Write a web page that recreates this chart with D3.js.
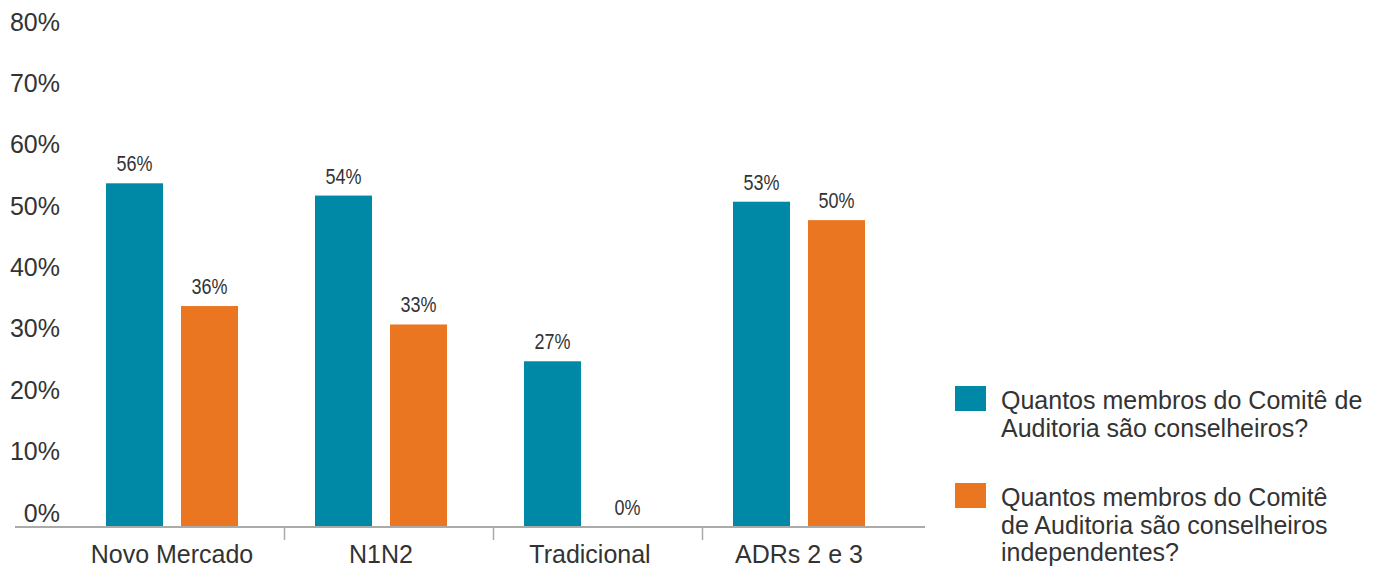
<!DOCTYPE html>
<html>
<head>
<meta charset="utf-8">
<script src="https://cdn.jsdelivr.net/npm/d3@7"></script>
<style>
  html, body { margin: 0; padding: 0; background: #fff; }
  svg { display: block; }
  text { fill: #333; }
</style>
</head>
<body>
<svg id="chart" width="1387" height="569"></svg>
<script>
// Categories (market segments)
const categories = ["Novo Mercado", "N1N2", "Tradicional", "ADRs 2 e 3"];
// Series names (legend text, split into lines)
const seriesKeys = ["conselheiros", "independentes"];
const seriesLabels = [
  ["Quantos membros do Comitê de", "Auditoria são conselheiros?"],
  ["Quantos membros do Comitê", "de Auditoria são conselheiros", "independentes?"]
];
const seriesColors = ["#0089a6", "#eb7622"];
// Values in percent
const conselheiros = [56, 54, 27, 53];
const independentes = [36, 33, 0, 50];
// Y axis ticks
const yTicks = [0, 10, 20, 30, 40, 50, 60, 70, 80];

const data = categories.map((c, i) => ({
  category: c,
  conselheiros: conselheiros[i],
  independentes: independentes[i]
}));

const svg = d3.select("#chart");

const y = d3.scaleLinear().domain([0, 80]).range([527, 36]);
const x = d3.scaleBand().domain(categories).range([67.5, 903.5]).padding(0);
const xs = d3.scaleBand().domain(seriesKeys).range([0, x.bandwidth()])
  .paddingInner(0.24).paddingOuter(0.513);

// Y axis labels (no line, no ticks)
const yAxis = d3.axisLeft(y).tickValues(yTicks).tickFormat(d => d + "%").tickSize(0).tickPadding(0);
const yg = svg.append("g").attr("transform", "translate(60,0)").call(yAxis);
yg.select(".domain").remove();
yg.selectAll("text")
  .attr("dy", "-6px")
  .attr("font-family", "'Liberation Sans', Arial, sans-serif")
  .attr("font-size", 25)
  .attr("fill", "#333");

// Bars
const groups = svg.append("g").selectAll("g").data(data).join("g")
  .attr("transform", d => `translate(${x(d.category)},0)`);

groups.selectAll("rect")
  .data(d => seriesKeys.map((k, i) => ({ key: k, value: d[k], color: seriesColors[i] })))
  .join("rect")
  .attr("x", d => xs(d.key))
  .attr("width", xs.bandwidth())
  .attr("y", d => y(d.value))
  .attr("height", d => y(0) - y(d.value))
  .attr("fill", d => d.color);

// Value labels, horizontally condensed
groups.selectAll("text.val")
  .data(d => seriesKeys.map(k => ({ key: k, value: d[k] })))
  .join("text")
  .attr("class", "val")
  .attr("transform", d => `translate(${xs(d.key) + xs.bandwidth() / 2},${y(d.value) - 12}) scale(0.8,1)`)
  .attr("text-anchor", "middle")
  .attr("font-family", "'Liberation Sans', Arial, sans-serif")
  .attr("font-size", 22.5)
  .text(d => d.value + "%");

// X axis baseline
svg.append("line")
  .attr("x1", 15).attr("x2", 925)
  .attr("y1", y(0)).attr("y2", y(0))
  .attr("stroke", "#aaaaaa").attr("stroke-width", 2);

// Category separators
svg.append("g").selectAll("line")
  .data(categories.slice(1))
  .join("line")
  .attr("x1", d => x(d) + 8).attr("x2", d => x(d) + 8)
  .attr("y1", y(0)).attr("y2", y(0) + 13)
  .attr("stroke", "#aaaaaa").attr("stroke-width", 1.5);

// Category labels
svg.append("g").selectAll("text")
  .data(categories)
  .join("text")
  .attr("x", d => x(d) + x.bandwidth() / 2)
  .attr("y", 563)
  .attr("text-anchor", "middle")
  .attr("font-family", "'Liberation Sans', Arial, sans-serif")
  .attr("font-size", 25)
  .text(d => d);

// Legend
const legendTop = [386, 483];
const legend = svg.append("g").selectAll("g")
  .data(seriesKeys.map((k, i) => ({ key: k, lines: seriesLabels[i], color: seriesColors[i], top: legendTop[i] })))
  .join("g");

legend.append("rect")
  .attr("x", 955).attr("y", d => d.top)
  .attr("width", 31).attr("height", 25)
  .attr("fill", d => d.color);

legend.append("text")
  .attr("font-family", "'Liberation Sans', Arial, sans-serif")
  .attr("font-size", 25)
  .attr("y", d => d.top + 23)
  .selectAll("tspan")
  .data(d => d.lines)
  .join("tspan")
  .attr("x", 1001)
  .attr("dy", (d, i) => i === 0 ? 0 : 27.5)
  .text(d => d);
</script>
</body>
</html>
